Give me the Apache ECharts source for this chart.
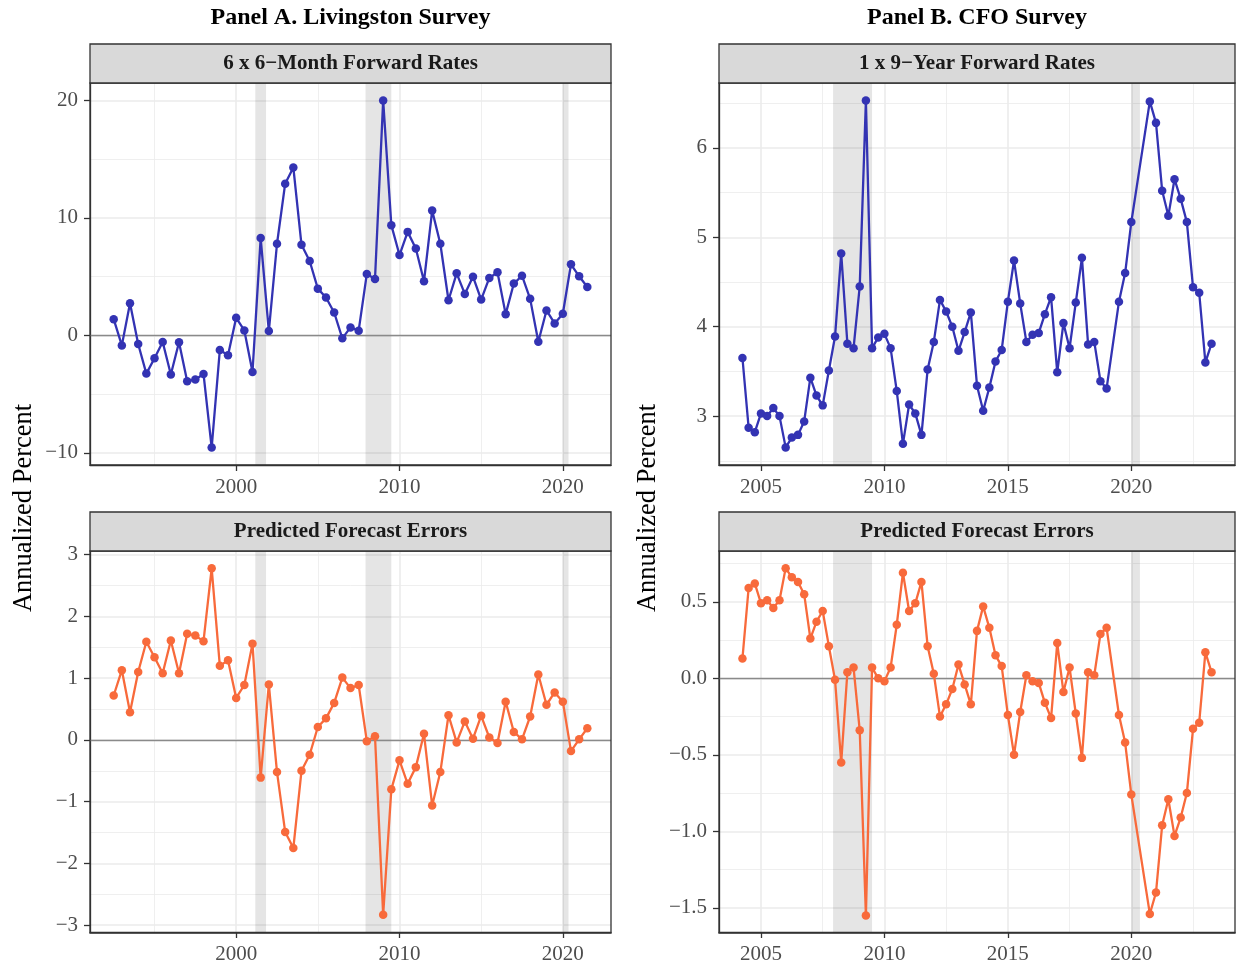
<!DOCTYPE html>
<html>
<head>
<meta charset="utf-8">
<script src="https://cdn.jsdelivr.net/npm/echarts@6/dist/echarts.min.js"></script>
<style>
  html, body { margin: 0; padding: 0; background: #fff; }
  #chart { width: 1238px; height: 965px; }
</style>
</head>
<body>
<div id="chart"></div>
<script>
// Panel A: Livingston survey, semiannual
var livDates = [1992.5, 1993, 1993.5, 1994, 1994.5, 1995, 1995.5, 1996, 1996.5, 1997,
  1997.5, 1998, 1998.5, 1999, 1999.5, 2000, 2000.5, 2001, 2001.5, 2002,
  2002.5, 2003, 2003.5, 2004, 2004.5, 2005, 2005.5, 2006, 2006.5, 2007,
  2007.5, 2008, 2008.5, 2009, 2009.5, 2010, 2010.5, 2011, 2011.5, 2012,
  2012.5, 2013, 2013.5, 2014, 2014.5, 2015, 2015.5, 2016, 2016.5, 2017,
  2017.5, 2018, 2018.5, 2019, 2019.5, 2020, 2020.5, 2021, 2021.5];
var livRates = [1.38, -0.85, 2.74, -0.73, -3.25, -1.95, -0.56, -3.33, -0.59, -3.90,
  -3.76, -3.28, -9.55, -1.24, -1.69, 1.50, 0.42, -3.11, 8.28, 0.37,
  7.80, 12.91, 14.29, 7.71, 6.33, 3.98, 3.22, 1.95, -0.25, 0.68,
  0.40, 5.23, 4.80, 20.0, 9.38, 6.84, 8.81, 7.40, 4.60, 10.62,
  7.80, 2.99, 5.28, 3.53, 5.00, 3.05, 4.89, 5.37, 1.81, 4.41,
  5.08, 3.11, -0.54, 2.12, 1.02, 1.84, 6.05, 5.03, 4.12];
var livErrors = [0.72, 1.13, 0.45, 1.10, 1.59, 1.34, 1.08, 1.61, 1.08, 1.72,
  1.69, 1.60, 2.78, 1.20, 1.29, 0.68, 0.89, 1.56, -0.61, 0.90,
  -0.52, -1.49, -1.75, -0.50, -0.24, 0.21, 0.35, 0.60, 1.01, 0.84,
  0.89, -0.02, 0.06, -2.83, -0.80, -0.33, -0.71, -0.44, 0.10, -1.06,
  -0.52, 0.40, -0.04, 0.30, 0.02, 0.39, 0.04, -0.05, 0.62, 0.13,
  0.01, 0.38, 1.06, 0.57, 0.77, 0.62, -0.18, 0.01, 0.19];

// Panel B: CFO survey, quarterly (some quarters missing)
var cfoDates = [2004.25, 2004.5, 2004.75, 2005, 2005.25, 2005.5, 2005.75, 2006, 2006.25, 2006.5,
  2006.75, 2007, 2007.25, 2007.5, 2007.75, 2008, 2008.25, 2008.5, 2008.75, 2009,
  2009.25, 2009.5, 2009.75, 2010, 2010.25, 2010.5, 2010.75, 2011, 2011.25, 2011.5,
  2011.75, 2012, 2012.25, 2012.5, 2012.75, 2013, 2013.25, 2013.5, 2013.75, 2014,
  2014.25, 2014.5, 2014.75, 2015, 2015.25, 2015.5, 2015.75, 2016, 2016.25, 2016.5,
  2016.75, 2017, 2017.25, 2017.5, 2017.75, 2018, 2018.25, 2018.5, 2018.75, 2019,
  2019.5, 2019.75, 2020, 2020.75, 2021, 2021.25, 2021.5, 2021.75, 2022, 2022.25,
  2022.5, 2022.75, 2023, 2023.25];
var cfoRates = [3.65, 2.87, 2.82, 3.03, 3.00, 3.09, 3.00, 2.65, 2.76, 2.79,
  2.94, 3.43, 3.23, 3.12, 3.51, 3.89, 4.82, 3.81, 3.76, 4.45,
  6.53, 3.76, 3.88, 3.92, 3.76, 3.28, 2.69, 3.13, 3.03, 2.79,
  3.52, 3.83, 4.30, 4.17, 4.00, 3.73, 3.94, 4.16, 3.34, 3.06,
  3.32, 3.61, 3.74, 4.28, 4.74, 4.26, 3.83, 3.91, 3.93, 4.14,
  4.33, 3.49, 4.04, 3.76, 4.27, 4.77, 3.80, 3.83, 3.39, 3.31,
  4.28, 4.60, 5.17, 6.52, 6.28, 5.52, 5.24, 5.65, 5.43, 5.17,
  4.44, 4.38, 3.60, 3.81];
var cfoErrors = [0.13, 0.59, 0.62, 0.49, 0.51, 0.46, 0.51, 0.72, 0.66, 0.63,
  0.55, 0.26, 0.37, 0.44, 0.21, -0.01, -0.55, 0.04, 0.07, -0.34,
  -1.55, 0.07, 0.00, -0.02, 0.07, 0.35, 0.69, 0.44, 0.49, 0.63,
  0.21, 0.03, -0.25, -0.17, -0.07, 0.09, -0.04, -0.17, 0.31, 0.47,
  0.33, 0.15, 0.08, -0.24, -0.50, -0.22, 0.02, -0.02, -0.03, -0.16,
  -0.26, 0.23, -0.09, 0.07, -0.23, -0.52, 0.04, 0.02, 0.29, 0.33,
  -0.24, -0.42, -0.76, -1.54, -1.40, -0.96, -0.79, -1.03, -0.91, -0.75,
  -0.33, -0.29, 0.17, 0.04];

// NBER recessions
var recessionStart = [2001.17, 2007.92, 2020.0];
var recessionEnd = [2001.83, 2009.5, 2020.35];

// tick labels
var livYearTicks = [2000, 2010, 2020];
var cfoYearTicks = [2005, 2010, 2015, 2020];
var livRateTicks = [-10, 0, 10, 20];
var livErrorTicks = [-3, -2, -1, 0, 1, 2, 3];
var cfoRateTicks = [3, 4, 5, 6];
var cfoErrorTicks = [-1.5, -1.0, -0.5, 0.0, 0.5];

var panelTitles = ['Panel A. Livingston Survey', 'Panel B. CFO Survey'];
var stripTitles = ['6 x 6\u2212Month Forward Rates', 'Predicted Forecast Errors',
  '1 x 9\u2212Year Forward Rates', 'Predicted Forecast Errors'];

var FONT = 'Liberation Serif';
var BLUE = '#3333B3';
var ORANGE = '#F86A3B';

// grid boxes: [left, top, width, height]
var boxes = [
  [90, 83, 521, 382],
  [90, 551, 521, 382],
  [719, 83, 516, 382],
  [719, 551, 516, 382]
];

function zip(xs, ys) {
  return xs.map(function(x, i) { return [x, ys[i]]; });
}

function minusFmt(digits) {
  return function(v) {
    var s = digits == null ? String(v) : Number(v).toFixed(digits);
    return s.replace('-', '\u2212');
  };
}

function axisFor(dim, idx, min, max, step, ticks, fmt) {
  return {
    type: 'value', gridIndex: idx, min: min, max: max,
    minInterval: step, maxInterval: step, splitNumber: 5,
    axisLine: { show: true, onZero: false, lineStyle: { color: '#333', width: 1.3 } },
    axisTick: { show: true, length: 6, customValues: ticks, lineStyle: { color: '#333', width: 1.3 } },
    axisLabel: {
      customValues: ticks, fontFamily: FONT, fontSize: 21, color: '#4D4D4D',
      margin: 12, formatter: fmt
    },
    splitLine: { show: true, lineStyle: { color: '#EBEBEB', width: 1.6 } },
    minorTick: { show: false, splitNumber: 2 },
    minorSplitLine: { show: true, lineStyle: { color: '#EBEBEB', width: 0.8 } }
  };
}

var bands = recessionStart.map(function(s, i) {
  return [{ xAxis: s }, { xAxis: recessionEnd[i] }];
});

function seriesFor(idx, xs, ys, color, zeroLine) {
  var s = {
    type: 'line', xAxisIndex: idx, yAxisIndex: idx,
    data: zip(xs, ys),
    symbol: 'circle', symbolSize: 8.5, showSymbol: true,
    itemStyle: { color: color }, lineStyle: { color: color, width: 2.3 },
    emphasis: { disabled: true },
    markArea: { silent: true, itemStyle: { color: 'rgba(0,0,0,0.1)' }, data: bands }
  };
  if (zeroLine) {
    s.markLine = {
      silent: true, z: 1, symbol: ['none', 'none'], label: { show: false },
      lineStyle: { color: '#8A8A8A', width: 1.4, type: 'solid' },
      emphasis: { disabled: true },
      data: [{ yAxis: 0 }]
    };
  }
  return s;
}

var graphics = [];
boxes.forEach(function(b, i) {
  graphics.push({
    type: 'rect', z: 100, silent: true,
    shape: { x: b[0], y: b[1], width: b[2], height: b[3] },
    style: { fill: 'none', stroke: '#333', lineWidth: 1.3 }
  });
  graphics.push({
    type: 'rect', z: 100, silent: true,
    shape: { x: b[0], y: b[1] - 39, width: b[2], height: 39 },
    style: { fill: '#D9D9D9', stroke: '#333', lineWidth: 1.3 }
  });
  graphics.push({
    type: 'text', z: 101, silent: true,
    x: b[0] + b[2] / 2, y: b[1] - 19,
    style: {
      text: stripTitles[i], font: 'bold 21px "' + FONT + '"', fill: '#1A1A1A',
      textAlign: 'center', textVerticalAlign: 'middle'
    }
  });
});
[[boxes[0], 24], [boxes[2], 648]].forEach(function(p, i) {
  var b = p[0];
  graphics.push({
    type: 'text', silent: true, x: b[0] + b[2] / 2, y: 18,
    style: {
      text: panelTitles[i], font: 'bold 24px "' + FONT + '"', fill: '#000',
      textAlign: 'center', textVerticalAlign: 'middle'
    }
  });
  graphics.push({
    type: 'text', silent: true, x: p[1], y: 508, rotation: Math.PI / 2,
    style: {
      text: 'Annualized Percent', font: '26.5px "' + FONT + '"', fill: '#000',
      textAlign: 'center', textVerticalAlign: 'middle'
    }
  });
});

var chart = echarts.init(document.getElementById('chart'));
chart.setOption({
  animation: false,
  backgroundColor: '#fff',
  grid: boxes.map(function(b) {
    return { left: b[0], top: b[1], width: b[2], height: b[3], containLabel: false };
  }),
  xAxis: [
    axisFor('x', 0, 1991.05, 2022.95, 10, livYearTicks, minusFmt()),
    axisFor('x', 1, 1991.05, 2022.95, 10, livYearTicks, minusFmt()),
    axisFor('x', 2, 2003.3, 2024.2, 5, cfoYearTicks, minusFmt()),
    axisFor('x', 3, 2003.3, 2024.2, 5, cfoYearTicks, minusFmt())
  ],
  yAxis: [
    axisFor('y', 0, -11.03, 21.48, 10, livRateTicks, minusFmt()),
    axisFor('y', 1, -3.11, 3.06, 1, livErrorTicks, minusFmt()),
    axisFor('y', 2, 2.453, 6.726, 1, cfoRateTicks, minusFmt()),
    axisFor('y', 3, -1.658, 0.832, 0.5, cfoErrorTicks, minusFmt(1))
  ],
  series: [
    seriesFor(0, livDates, livRates, BLUE, true),
    seriesFor(1, livDates, livErrors, ORANGE, true),
    seriesFor(2, cfoDates, cfoRates, BLUE, false),
    seriesFor(3, cfoDates, cfoErrors, ORANGE, true)
  ],
  graphic: graphics
});
</script>
</body>
</html>
